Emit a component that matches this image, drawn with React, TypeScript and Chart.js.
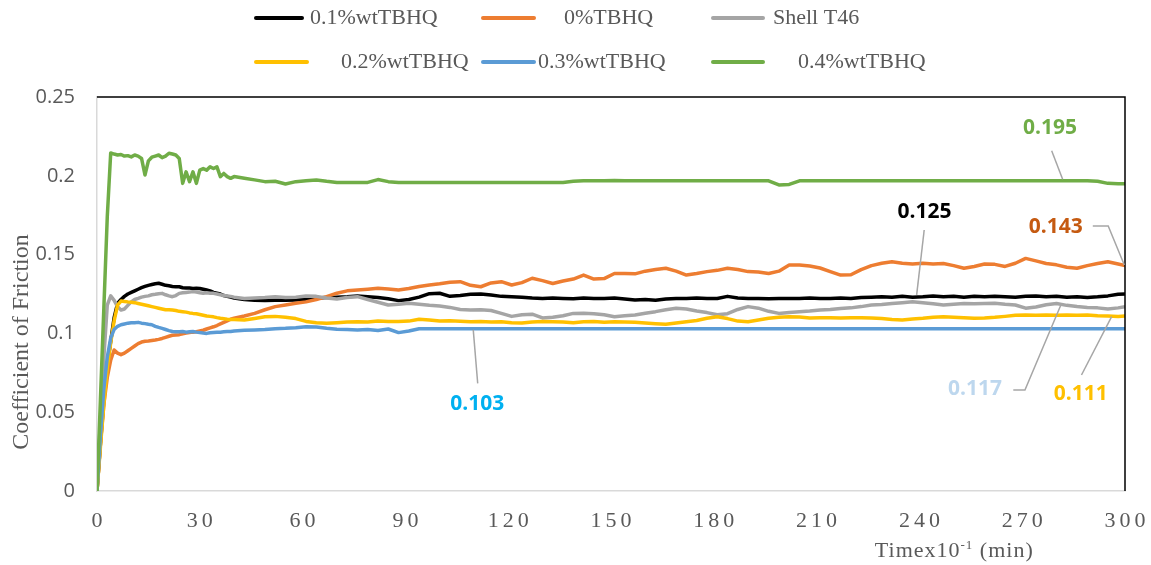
import React, { useEffect, useRef } from "react";
import { Chart, registerables } from "chart.js";

Chart.register(...registerables);

// Time (x10^-1 min)
const time = [
  0, 1, 2, 3, 4, 5, 6, 7, 8, 9, 10,
  11, 12, 13, 14, 15, 16, 17, 18, 19, 20,
  21, 22, 23, 24, 25, 26, 27, 28, 29, 30,
  31, 32, 33, 34, 35, 36, 37, 38, 39, 40,
  43, 46, 49, 52, 55, 58, 61, 64, 67, 70,
  73, 76, 79, 82, 85, 88, 91, 94, 97, 100,
  103, 106, 109, 112, 115, 118, 121, 124, 127, 130,
  133, 136, 139, 142, 145, 148, 151, 154, 157, 160,
  163, 166, 169, 172, 175, 178, 181, 184, 187, 190,
  193, 196, 199, 202, 205, 208, 211, 214, 217, 220,
  223, 226, 229, 232, 235, 238, 241, 244, 247, 250,
  253, 256, 259, 262, 265, 268, 271, 274, 277, 280,
  283, 286, 289, 292, 295, 298, 300,
];

const tbhq01 = [
  0, 0.03, 0.058, 0.08, 0.095, 0.11, 0.119, 0.1215, 0.1235, 0.125, 0.126,
  0.127, 0.128, 0.129, 0.1298, 0.1305, 0.131, 0.1315, 0.1318, 0.1312, 0.1305,
  0.1302, 0.1298, 0.1296, 0.1296, 0.129, 0.1288, 0.1288, 0.1285, 0.1286, 0.1285,
  0.128, 0.1275, 0.127, 0.126, 0.1255, 0.125, 0.124, 0.1235, 0.123, 0.1225,
  0.1215, 0.121, 0.1208, 0.121, 0.121, 0.1212, 0.1218, 0.1225, 0.1228, 0.123,
  0.1232, 0.1238, 0.1233, 0.1228, 0.122, 0.1208, 0.1215, 0.123, 0.1252, 0.1255,
  0.1235, 0.124, 0.1248, 0.125, 0.1243, 0.1235, 0.1232, 0.123, 0.1225, 0.1222,
  0.1225, 0.1222, 0.122, 0.1225, 0.1222, 0.1222, 0.1224, 0.1218, 0.1212, 0.1215,
  0.121, 0.1218, 0.1222, 0.1222, 0.1225, 0.1222, 0.1222, 0.1235, 0.1225, 0.1222,
  0.1222, 0.122, 0.1222, 0.1222, 0.1222, 0.1225, 0.1222, 0.1222, 0.1225, 0.1222,
  0.1228, 0.123, 0.1232, 0.123, 0.1235, 0.123, 0.1233, 0.1238, 0.1233, 0.1236,
  0.123, 0.1235, 0.1232, 0.1236, 0.1233, 0.123, 0.1235, 0.1238, 0.1233, 0.1236,
  0.123, 0.1232, 0.1228, 0.1232, 0.1238, 0.1248, 0.125,
];

const tbhq0 = [
  0, 0.03, 0.055, 0.072, 0.083, 0.0895, 0.0875, 0.0865, 0.0875, 0.089, 0.0905,
  0.092, 0.0935, 0.0945, 0.095, 0.0952, 0.0955, 0.0958, 0.0962, 0.0968, 0.0975,
  0.0982, 0.0988, 0.099, 0.0992, 0.0998, 0.1002, 0.1005, 0.1008, 0.101, 0.1015,
  0.102, 0.1028, 0.1035, 0.1042, 0.105, 0.106, 0.107, 0.108, 0.109, 0.1096,
  0.111, 0.1127, 0.115, 0.117, 0.118, 0.1191, 0.12, 0.1215, 0.1233, 0.1255,
  0.127, 0.1275, 0.128, 0.1286, 0.1282, 0.1275, 0.1285, 0.1298, 0.1307, 0.1315,
  0.1325, 0.1328, 0.1305, 0.1296, 0.132, 0.1328, 0.1307, 0.1322, 0.135, 0.1335,
  0.1317, 0.1332, 0.1345, 0.137, 0.1345, 0.1348, 0.138, 0.138, 0.1378, 0.1395,
  0.1405, 0.1413, 0.1395, 0.137, 0.138, 0.1392, 0.14, 0.1413, 0.1405, 0.1392,
  0.139, 0.138, 0.1395, 0.1434, 0.1434, 0.1428, 0.1415, 0.1392, 0.137, 0.1372,
  0.1405, 0.143, 0.1445, 0.1455, 0.1445, 0.144, 0.1445, 0.144, 0.1444, 0.143,
  0.1413, 0.1425, 0.144, 0.1438, 0.1425, 0.1445, 0.1476, 0.146, 0.1444, 0.1435,
  0.142, 0.1413, 0.143, 0.1444, 0.1455, 0.144, 0.143,
];

const shellT46 = [
  0, 0.045, 0.085, 0.118, 0.1238, 0.121, 0.117, 0.1148, 0.1155, 0.1178, 0.12,
  0.1215, 0.1222, 0.123, 0.1235, 0.1238, 0.1245, 0.1248, 0.1252, 0.1254, 0.1245,
  0.1238, 0.1233, 0.124, 0.1254, 0.1258, 0.126, 0.1262, 0.1265, 0.1262, 0.1258,
  0.1255, 0.1258, 0.1255, 0.1254, 0.125, 0.1245, 0.124, 0.1238, 0.1235, 0.123,
  0.1222, 0.1225, 0.1228, 0.1233, 0.1228, 0.123, 0.1237, 0.1235, 0.1225, 0.1218,
  0.1228, 0.1233, 0.1215, 0.1198, 0.118, 0.1185, 0.1191, 0.1185, 0.1178, 0.1174,
  0.1165, 0.1152, 0.1148, 0.115, 0.1145, 0.1127, 0.1108, 0.1118, 0.1122, 0.1098,
  0.1102, 0.1112, 0.1127, 0.1128, 0.1125, 0.1118, 0.1106, 0.1112, 0.1117, 0.1128,
  0.1138, 0.115, 0.1159, 0.1155, 0.1142, 0.1132, 0.1118, 0.1125, 0.1152, 0.117,
  0.116, 0.114, 0.1127, 0.1132, 0.1138, 0.1142, 0.1148, 0.1152, 0.1158, 0.1162,
  0.117, 0.118, 0.1183, 0.119, 0.1195, 0.1201, 0.1195, 0.1188, 0.118, 0.1185,
  0.119, 0.1188, 0.119, 0.1192, 0.1185, 0.118, 0.116, 0.1168, 0.1182, 0.119,
  0.1178, 0.117, 0.1165, 0.1162, 0.1155, 0.1162, 0.117,
];

const tbhq02 = [
  0, 0.028, 0.055, 0.078, 0.094, 0.108, 0.118, 0.1205, 0.1203, 0.12, 0.1198,
  0.1195, 0.119, 0.1185, 0.118, 0.1175, 0.117, 0.1165, 0.116, 0.1155, 0.115,
  0.115, 0.1148, 0.1145, 0.114, 0.1138, 0.1135, 0.113, 0.1127, 0.1125, 0.112,
  0.1115, 0.111, 0.1108, 0.1105, 0.11, 0.1096, 0.1093, 0.109, 0.1088, 0.1088,
  0.1085, 0.1095, 0.1106, 0.1108, 0.1103, 0.1094, 0.1076, 0.1068, 0.1064, 0.1068,
  0.1072, 0.1074, 0.1072, 0.1078, 0.1075, 0.1076, 0.1078, 0.109, 0.1085, 0.1078,
  0.108, 0.1077, 0.1074, 0.1075, 0.1072, 0.1074, 0.1068, 0.1066, 0.1072, 0.1075,
  0.1074, 0.1072, 0.1068, 0.1074, 0.1075, 0.107, 0.1074, 0.1072, 0.107, 0.1066,
  0.1062, 0.1058, 0.1066, 0.1074, 0.1082, 0.1096, 0.1106, 0.1094, 0.1078, 0.1074,
  0.1085, 0.1096, 0.1102, 0.1106, 0.1104, 0.1098, 0.11, 0.11, 0.1098, 0.11,
  0.11, 0.1098, 0.1094, 0.1088, 0.1085, 0.1092, 0.1096, 0.1102, 0.1106, 0.1103,
  0.11, 0.1096, 0.1098, 0.1102, 0.1108, 0.1115, 0.1117, 0.1115, 0.1117, 0.1115,
  0.1117, 0.1115, 0.1117, 0.1112, 0.111, 0.1108, 0.111,
];

const tbhq03 = [
  0, 0.035, 0.065, 0.085, 0.097, 0.1025, 0.1045, 0.1055, 0.106, 0.1065, 0.1068,
  0.1068, 0.107, 0.1065, 0.1062, 0.1058, 0.1055, 0.1045, 0.1038, 0.1032, 0.1025,
  0.1018, 0.1012, 0.101, 0.101, 0.1012, 0.1008, 0.101, 0.1012, 0.1008, 0.1005,
  0.1002, 0.1, 0.1004, 0.1006, 0.1008, 0.1008, 0.101, 0.1012, 0.1012, 0.1015,
  0.102, 0.1022, 0.1025, 0.103, 0.1032, 0.1036, 0.1042, 0.104, 0.1032, 0.1026,
  0.1024, 0.1022, 0.1025, 0.1018, 0.1028, 0.1005, 0.1015, 0.103, 0.103, 0.103,
  0.103, 0.103, 0.103, 0.103, 0.103, 0.103, 0.103, 0.103, 0.103, 0.103,
  0.103, 0.103, 0.103, 0.103, 0.103, 0.103, 0.103, 0.103, 0.103, 0.103,
  0.103, 0.103, 0.103, 0.103, 0.103, 0.103, 0.103, 0.103, 0.103, 0.103,
  0.103, 0.103, 0.103, 0.103, 0.103, 0.103, 0.103, 0.103, 0.103, 0.103,
  0.103, 0.103, 0.103, 0.103, 0.103, 0.103, 0.103, 0.103, 0.103, 0.103,
  0.103, 0.103, 0.103, 0.103, 0.103, 0.103, 0.103, 0.103, 0.103, 0.103,
  0.103, 0.103, 0.103, 0.103, 0.103, 0.103, 0.103,
];

const tbhq04 = [
  0, 0.058, 0.116, 0.174, 0.2145, 0.2138, 0.2132, 0.2135, 0.2125, 0.2128, 0.212,
  0.2132, 0.2125, 0.211, 0.2005, 0.2095, 0.2118, 0.2125, 0.2132, 0.2115, 0.2125,
  0.2143, 0.2138, 0.2132, 0.211, 0.1952, 0.2025, 0.1963, 0.2025, 0.1952, 0.2036,
  0.2046, 0.2036, 0.2057, 0.2046, 0.2057, 0.1995, 0.2015, 0.1995, 0.1984, 0.1995,
  0.1985, 0.1974, 0.1963, 0.1965, 0.1948, 0.1963, 0.1968, 0.1974, 0.1965, 0.1958,
  0.1958, 0.1958, 0.1958, 0.1976, 0.1963, 0.1958, 0.1958, 0.1958, 0.1958, 0.1958,
  0.1958, 0.1958, 0.1958, 0.1958, 0.1958, 0.1958, 0.1958, 0.1958, 0.1958, 0.1958,
  0.1958, 0.1958, 0.1965, 0.1968, 0.1968, 0.1968, 0.197, 0.1968, 0.1968, 0.1968,
  0.1968, 0.1968, 0.1968, 0.1968, 0.1968, 0.1968, 0.1968, 0.1968, 0.1968, 0.1968,
  0.1968, 0.1968, 0.1942, 0.1945, 0.1968, 0.1968, 0.1968, 0.1968, 0.1968, 0.1968,
  0.1968, 0.1968, 0.1968, 0.1968, 0.1968, 0.1968, 0.1968, 0.1968, 0.1968, 0.1968,
  0.1968, 0.1968, 0.1968, 0.1968, 0.1968, 0.1968, 0.1968, 0.1968, 0.1968, 0.1968,
  0.1968, 0.1968, 0.1968, 0.1965, 0.1952, 0.195, 0.195,
];

const seriesLabels = ["0.1%wtTBHQ", "0%TBHQ", "Shell T46", "0.2%wtTBHQ", "0.3%wtTBHQ", "0.4%wtTBHQ"];
const seriesValues = [tbhq01, tbhq0, shellT46, tbhq02, tbhq03, tbhq04];
const seriesColors = ["#000000", "#ED7D31", "#A5A5A5", "#FFC000", "#5B9BD5", "#70AD47"];

const xTickValues = [0, 30, 60, 90, 120, 150, 180, 210, 240, 270, 300];
const endValueLabels = ["0.195", "0.125", "0.143", "0.117", "0.111", "0.103"];

const yAxisTitle = "Coefficient of Friction";
const xAxisTitleMain = "Timex10";
const xAxisTitleSup = "-1";
const xAxisTitleTail = " (min)";

// layout of the hand-drawn legend (pixel positions)
const legendLayout = [
  { lineX: 256, lineW: 46, textX: 310, y: 18 },
  { lineX: 483, lineW: 51, textX: 564, y: 18 },
  { lineX: 713, lineW: 50, textX: 773, y: 18 },
  { lineX: 256, lineW: 51, textX: 341, y: 62 },
  { lineX: 483, lineW: 51, textX: 538, y: 62 },
  { lineX: 713, lineW: 50, textX: 798, y: 62 },
];

// layout of the data callouts (in data coordinates)
const calloutLayout = [
  { color: "#70AD47", at: [278.1, 0.2303], path: [[278.6, 0.2159], [281.8, 0.1978]] },
  { color: "#000000", at: [241.5, 0.1773], path: [[241.4, 0.1656], [239.2, 0.1244]] },
  { color: "#C55A11", at: [279.8, 0.1672], path: [[290.6, 0.1681], [295.1, 0.1681], [299.8, 0.1434]] },
  { color: "#BDD7EE", at: [256.2, 0.0647], path: [[267.4, 0.0641], [270.8, 0.0641], [281.5, 0.1191]] },
  { color: "#FFC000", at: [287.1, 0.0615], path: [[287.3, 0.0736], [296.1, 0.1106]] },
  { color: "#00B0F0", at: [111, 0.0552], path: [[111.1, 0.0683], [109.8, 0.1022]] },
];

const decorations = {
  id: "decorations",
  afterDraw(chart: any) {
    const ctx: CanvasRenderingContext2D = chart.ctx;
    const { left, right, top, bottom } = chart.chartArea;
    const xs = chart.scales.x;
    const ys = chart.scales.y;
    ctx.save();

    // top / right frame
    ctx.strokeStyle = "#000000";
    ctx.lineWidth = 1.5;
    ctx.beginPath();
    ctx.moveTo(left, top);
    ctx.lineTo(right, top);
    ctx.lineTo(right, bottom);
    ctx.stroke();

    // x tick labels
    ctx.fillStyle = "#595959";
    ctx.font = '22px "Liberation Serif"';
    ctx.textAlign = "center";
    ctx.textBaseline = "middle";
    (ctx as any).letterSpacing = "4px";
    xTickValues.forEach((v) => {
      ctx.fillText(String(v), xs.getPixelForValue(v) + 2, bottom + 30);
    });
    (ctx as any).letterSpacing = "1px";

    // x title
    ctx.textAlign = "left";
    ctx.textBaseline = "alphabetic";
    let tx = xs.getPixelForValue(227);
    const by = bottom + 66;
    ctx.font = '22px "Liberation Serif"';
    ctx.fillText(xAxisTitleMain, tx, by);
    tx += ctx.measureText(xAxisTitleMain).width;
    ctx.font = '13px "Liberation Serif"';
    ctx.fillText(xAxisTitleSup, tx, by - 8);
    tx += ctx.measureText(xAxisTitleSup).width;
    ctx.font = '22px "Liberation Serif"';
    ctx.fillText(xAxisTitleTail, tx, by);
    (ctx as any).letterSpacing = "0px";

    // y title
    ctx.save();
    ctx.translate(22, 342);
    ctx.rotate(-Math.PI / 2);
    ctx.font = '24px "Liberation Serif"';
    ctx.textAlign = "center";
    ctx.textBaseline = "middle";
    ctx.fillText(yAxisTitle, 0, 0);
    ctx.restore();

    // legend
    legendLayout.forEach((l, i) => {
      ctx.strokeStyle = seriesColors[i];
      ctx.lineWidth = 4;
      ctx.lineCap = "round";
      ctx.beginPath();
      ctx.moveTo(l.lineX, l.y);
      ctx.lineTo(l.lineX + l.lineW, l.y);
      ctx.stroke();
      ctx.fillStyle = "#595959";
      ctx.font = '22px "Liberation Serif"';
      ctx.textAlign = "left";
      ctx.textBaseline = "middle";
      ctx.fillText(seriesLabels[i], l.textX, l.y);
    });
    ctx.lineCap = "butt";

    // callouts
    calloutLayout.forEach((c, i) => {
      ctx.strokeStyle = "#A6A6A6";
      ctx.lineWidth = 1.5;
      ctx.beginPath();
      c.path.forEach((p, j) => {
        const px = xs.getPixelForValue(p[0]);
        const py = ys.getPixelForValue(p[1]);
        if (j === 0) ctx.moveTo(px, py);
        else ctx.lineTo(px, py);
      });
      ctx.stroke();
      ctx.fillStyle = c.color;
      ctx.font = 'bold 21px "Open Sans"';
      ctx.textAlign = "center";
      ctx.textBaseline = "middle";
      ctx.fillText(endValueLabels[i], xs.getPixelForValue(c.at[0]), ys.getPixelForValue(c.at[1]));
    });

    ctx.restore();
  },
};

export default function App() {
  const canvasRef = useRef<HTMLCanvasElement | null>(null);

  useEffect(() => {
    if (!canvasRef.current) return;
    const datasets = seriesValues.map((vals, i) => ({
      label: seriesLabels[i],
      data: time.map((t, k) => ({ x: t, y: vals[k] })),
      borderColor: seriesColors[i],
      backgroundColor: seriesColors[i],
      borderWidth: 3.5,
      borderJoinStyle: "round",
      pointRadius: 0,
      tension: 0,
      fill: false,
      order: 6 - i,
    }));
    const chart = new Chart(canvasRef.current, {
      type: "line",
      data: { datasets },
      options: {
        responsive: false,
        animation: false,
        layout: { padding: { top: 97, right: 26, left: 0, bottom: 0 } },
        plugins: {
          legend: { display: false },
          tooltip: { enabled: false },
        },
        scales: {
          x: {
            type: "linear",
            min: 0,
            max: 300,
            ticks: { stepSize: 30, display: false },
            grid: { display: false, drawTicks: false },
            border: { color: "#D9D9D9", width: 1.5 },
            afterFit: (s: any) => {
              s.height = 74;
            },
          },
          y: {
            type: "linear",
            min: 0,
            max: 0.25,
            ticks: {
              stepSize: 0.05,
              padding: 22,
              color: "#595959",
              font: { family: "'Open Sans'", size: 20 },
              callback: (v: any) => String(Number(Number(v).toFixed(2))),
            },
            grid: { display: false, drawTicks: false },
            border: { color: "#D9D9D9", width: 1.5 },
            afterFit: (s: any) => {
              s.width = 97;
            },
          },
        },
      } as any,
      plugins: [decorations],
    });
    return () => chart.destroy();
  }, []);

  return (
    <div style={{ position: "fixed", left: 0, top: 0, width: 1151, height: 565, background: "#ffffff" }}>
      <canvas ref={canvasRef} width={1151} height={565} style={{ display: "block", width: 1151, height: 565 }} />
    </div>
  );
}
